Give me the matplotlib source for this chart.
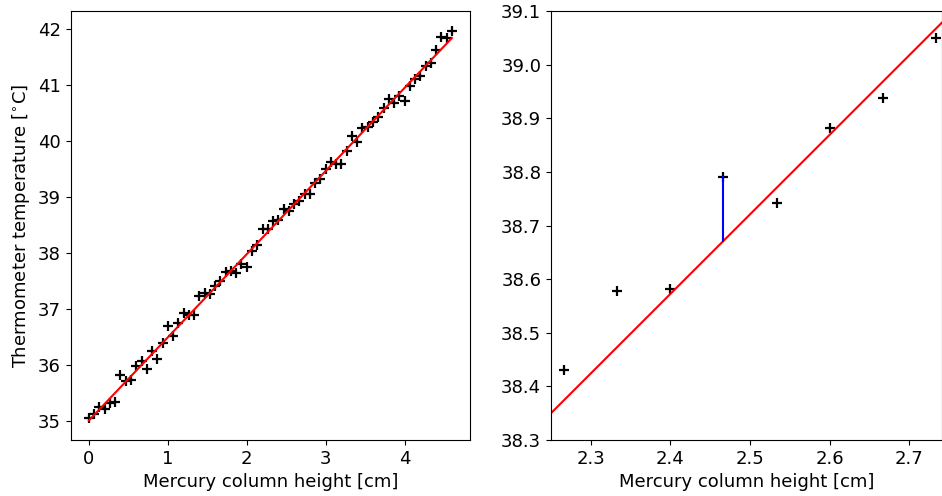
import numpy as np
import matplotlib
matplotlib.use("Agg")
import matplotlib.pyplot as plt

height = np.linspace(0, 4.6, 70)
temperature = np.array([
    35.05, 35.13, 35.25, 35.21, 35.33, 35.35, 35.83, 35.72, 35.74, 35.99,
    36.08, 35.93, 36.25, 36.11, 36.40, 36.69, 36.52, 36.76, 36.93, 36.89,
    36.90, 37.23, 37.28, 37.27, 37.41, 37.50, 37.66, 37.68, 37.64, 37.80,
    37.75, 38.04, 38.15, 38.42, 38.43, 38.578, 38.582, 38.79, 38.742, 38.882,
    38.937, 39.05, 39.06, 39.25, 39.32, 39.50, 39.62, 39.59, 39.59, 39.82,
    40.08, 39.98, 40.23, 40.24, 40.34, 40.43, 40.59, 40.74, 40.68, 40.80,
    40.71, 40.98, 41.10, 41.15, 41.34, 41.39, 41.62, 41.85, 41.84, 41.97])
highlight = 37

slope, intercept = np.polyfit(height, temperature, 1)
fit = intercept + slope * height

plt.rcParams['font.size'] = 13

fig = plt.figure(figsize=(9.42, 4.96), dpi=100)
ax1 = fig.add_axes([0.0751, 0.1129, 0.4239, 0.8649])
ax2 = fig.add_axes([0.5849, 0.1129, 0.4150, 0.8649])

ms = 7
mew = 1.6
ax1.plot(height, temperature, '+', color='black', markersize=ms, markeredgewidth=mew)
ax1.plot(height, fit, '-', color='red', linewidth=1.5)
ax1.set_xlabel('Mercury column height [cm]')
ax1.set_ylabel('Thermometer temperature [$^{\\circ}$C]')

ax2.plot(height, temperature, '+', color='black', markersize=ms, markeredgewidth=mew)
ax2.plot(height, fit, '-', color='red', linewidth=1.5)
ax2.plot([height[highlight], height[highlight]], [temperature[highlight], fit[highlight]],
         '-', color='blue', linewidth=1.5)
ax2.set_xlim(2.25, 2.741)
ax2.set_ylim(38.3, 39.1)
ax2.set_xlabel('Mercury column height [cm]')

fig.savefig('out.png', dpi=100)
